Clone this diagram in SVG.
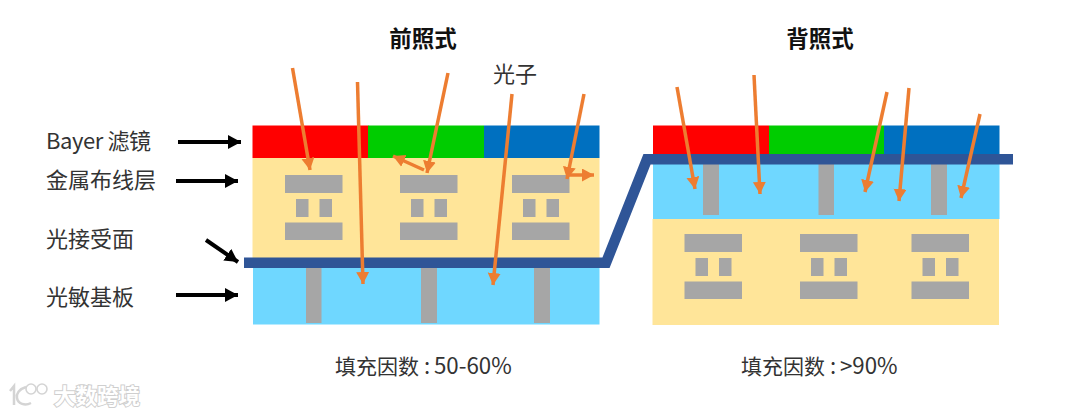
<svg xmlns="http://www.w3.org/2000/svg" width="1080" height="416" viewBox="0 0 1080 416">
<style>
text{font-family:"Noto Sans CJK SC","Noto Sans",sans-serif;fill:#333}
.lb{font-size:22px}
.tt{font-size:22.5px;font-weight:700;fill:#111}
.cap{font-size:21px}
.num{font-size:22.3px}
.r{fill:#f00}.g{fill:#0c0}.b{fill:#0070c0}.c{fill:#ffe599}.s{fill:#6fd7ff}.m{fill:#a6a6a6}
.or{fill:none;stroke:#ed7d31;stroke-width:3.5;marker-end:url(#oh)}
.bk{fill:none;stroke:#000;stroke-width:4;marker-end:url(#bh)}
.wm{font-size:21.5px;font-weight:700;fill:#fff;stroke:#cfcfcf;stroke-width:2;paint-order:stroke}
</style>
<defs>
<marker id="oh" markerUnits="userSpaceOnUse" markerWidth="14" markerHeight="14" refX="12" refY="6.5" orient="auto"><path d="M0 0L12 6.5L0 13Z" fill="#ed7d31"/></marker>
<marker id="bh" markerUnits="userSpaceOnUse" markerWidth="15" markerHeight="15" refX="13" refY="7" orient="auto"><path d="M0 0L13 7L0 14Z" fill="#000"/></marker>
<g id="wire"><rect class="m" x="0" y="0" width="57.5" height="18"/><rect class="m" x="11" y="24" width="12.5" height="18"/><rect class="m" x="34.5" y="24" width="12.5" height="18"/><rect class="m" x="0" y="47.5" width="57.5" height="17.5"/></g>
</defs>
<g id="front">
<rect class="r" x="252.5" y="125.5" width="116" height="32.5"/>
<rect class="g" x="368" y="125.5" width="116" height="32.5"/>
<rect class="b" x="484" y="125.5" width="115.5" height="32.5"/>
<rect class="c" x="252.5" y="158" width="347" height="100"/>
<rect class="s" x="253" y="268" width="346.5" height="56.5"/>
<use href="#wire" x="285" y="175"/><use href="#wire" x="400" y="175"/><use href="#wire" x="512" y="175"/>
<rect class="m" x="306" y="268" width="15.5" height="55"/><rect class="m" x="421" y="268" width="16" height="55"/><rect class="m" x="534" y="268" width="16" height="55"/>
</g>
<g id="back">
<rect class="r" x="653" y="125.5" width="116" height="29"/>
<rect class="g" x="769" y="125.5" width="115" height="29"/>
<rect class="b" x="884" y="125.5" width="115.5" height="29"/>
<rect class="s" x="653" y="164" width="346.5" height="55"/>
<rect class="c" x="652.5" y="219" width="346.5" height="106"/>
<rect class="m" x="703" y="164" width="16" height="51"/><rect class="m" x="818.5" y="164" width="15.5" height="51"/><rect class="m" x="931" y="164" width="16" height="51"/>
<use href="#wire" x="684.5" y="234"/><use href="#wire" x="800" y="234"/><use href="#wire" x="911.5" y="234"/>
</g>
<g id="connectors">
<path id="surface" d="M244 262.8H606L647 159.3H1013" fill="none" stroke="#2f5597" stroke-width="10.5"/>
<path class="or" d="M292.5 68L310 170"/>
<path class="or" d="M357.5 82L363 284"/>
<path class="or" d="M448 73L427 173"/>
<path class="or" d="M512 94L493 285"/>
<path class="or" d="M584 94L567 179"/>
<path class="or" d="M424 170L393 156"/>
<path class="or" d="M567 175H594"/>
<path class="or" d="M677 87L695 189"/>
<path class="or" d="M754 75L760 194"/>
<path class="or" d="M887 92L865 192"/>
<path class="or" d="M909 88L899 201"/>
<path class="or" d="M980 114L961 198"/>
<path class="bk" d="M178 142H241"/>
<path class="bk" d="M176 181H238"/>
<path class="bk" d="M206 240L238 262"/>
<path class="bk" d="M176 295H238"/>
</g>
<g id="labels">
<text class="tt" x="423" y="47" text-anchor="middle">前照式</text>
<text class="tt" x="820" y="47" text-anchor="middle">背照式</text>
<text class="lb" x="493" y="82">光子</text>
<text class="lb" x="46" y="149" textLength="105">Bayer 滤镜</text>
<text class="lb" x="46" y="188">金属布线层</text>
<text class="lb" x="46" y="247">光接受面</text>
<text class="lb" x="46" y="305">光敏基板</text>
<text class="cap" x="335" y="374">填充因数<tspan class="num" x="424">:</tspan><tspan class="num" x="434">50-60%</tspan></text>
<text class="cap" x="741" y="374">填充因数<tspan class="num" x="830">:</tspan><tspan class="num" x="840">&gt;90%</tspan></text>
</g>
<g id="watermark">
<path d="M10 391L14 386V405M26 387C19 389 16 394 17 398C18 404 25 406 31 403" fill="none" stroke="#d4d4d4" stroke-width="2.5"/>
<circle cx="31" cy="389" r="5" fill="none" stroke="#d4d4d4" stroke-width="1.6"/>
<circle cx="42" cy="389" r="5" fill="none" stroke="#d4d4d4" stroke-width="1.6"/>
<text class="wm" x="54" y="404">大数跨境</text>
</g>
</svg>
